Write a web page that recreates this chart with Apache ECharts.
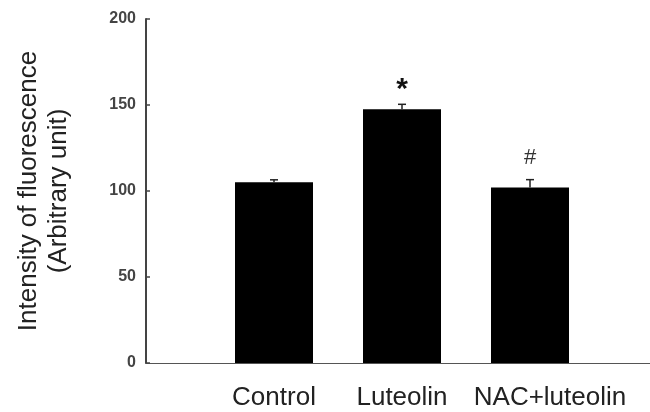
<!DOCTYPE html>
<html>
<head>
<meta charset="utf-8">
<script src="https://cdn.jsdelivr.net/npm/echarts@6/dist/echarts.min.js"></script>
<style>
  html, body { margin: 0; padding: 0; background: #fff; }
  #chart { width: 650px; height: 412px; }
</style>
</head>
<body>
<div id="chart"></div>
<script>
const categories = ['Control', 'Luteolin', 'NAC+luteolin']
const positions = [1, 2, 3]
const values = [105.1, 147.5, 102.1]
const errors = [1.4, 2.9, 4.5]
const marks = ['', '*', '#']
const yTicks = [0, 50, 100, 150, 200]

const chart = echarts.init(document.getElementById('chart'))

const barData = positions.map((x, i) => [x, values[i]])
const errData = positions.map((x, i) => [x, values[i], errors[i], i])

const option = {
  backgroundColor: '#fff',
  animation: false,
  // x axis runs to the right edge of the picture
  grid: { left: 146, top: 19, right: 0, height: 344 },
  xAxis: {
    type: 'value',
    min: 0,
    max: 3.9375,
    interval: 1,
    axisLine: { show: true, lineStyle: { color: '#555', width: 1.2 } },
    axisTick: { show: false },
    splitLine: { show: false },
    axisLabel: {
      color: '#222',
      fontFamily: 'Liberation Sans, Arial, sans-serif',
      fontSize: 26,
      margin: 22,
      showMaxLabel: false,
      formatter: (v) => {
        const i = positions.indexOf(v)
        if (i < 0) return ''
        // last label sits a bit right of its bar in the original
        return i === 2 ? '{r|' + categories[i] + '}' : categories[i]
      },
      rich: {
        r: {
          fontFamily: 'Liberation Sans, Arial, sans-serif',
          fontSize: 26,
          color: '#222',
          padding: [0, 0, 0, 40]
        }
      }
    }
  },
  yAxis: {
    type: 'value',
    min: 0,
    max: 200,
    interval: 50,
    name: 'Intensity of fluorescence\n(Arbitrary unit)',
    nameLocation: 'middle',
    nameRotate: 90,
    nameGap: 72,
    nameTextStyle: {
      color: '#222',
      fontFamily: 'Liberation Sans, Arial, sans-serif',
      fontSize: 26,
      lineHeight: 30
    },
    axisLine: { show: true, lineStyle: { color: '#444', width: 2 } },
    axisTick: { show: true, inside: true, length: 4, lineStyle: { color: '#444', width: 1.5 } },
    splitLine: { show: false },
    axisLabel: {
      color: '#444',
      fontFamily: 'Liberation Sans, Arial, sans-serif',
      fontSize: 16,
      fontWeight: 'bold',
      margin: 10,
      formatter: (v) => (yTicks.includes(v) ? String(v) : '')
    }
  },
  series: [
    {
      type: 'bar',
      data: barData,
      barWidth: 78,
      itemStyle: { color: '#000' }
    },
    {
      type: 'custom',
      data: errData,
      z: 5,
      renderItem: (params, api) => {
        const x = api.value(0)
        const v = api.value(1)
        const e = api.value(2)
        const idx = api.value(3)
        const base = api.coord([x, v])
        const top = api.coord([x, v + e])
        const cap = 4
        const children = [
          {
            type: 'line',
            shape: { x1: base[0], y1: base[1], x2: top[0], y2: top[1] },
            style: { stroke: '#222', lineWidth: 1.5 }
          },
          {
            type: 'line',
            shape: { x1: top[0] - cap, y1: top[1], x2: top[0] + cap, y2: top[1] },
            style: { stroke: '#222', lineWidth: 1.5 }
          }
        ]
        const m = marks[idx]
        if (m === '*') {
          children.push({
            type: 'text',
            style: {
              text: m, x: top[0], y: top[1],
              align: 'center', verticalAlign: 'bottom',
              fontFamily: 'Liberation Sans, Arial, sans-serif',
              fontSize: 30, fontWeight: 'bold', fill: '#111'
            }
          })
        } else if (m) {
          children.push({
            type: 'text',
            style: {
              text: m, x: top[0], y: top[1] - 11,
              align: 'center', verticalAlign: 'bottom',
              fontFamily: 'Liberation Sans, Arial, sans-serif',
              fontSize: 22, fill: '#333'
            }
          })
        }
        return { type: 'group', children }
      }
    }
  ]
}

chart.setOption(option)
</script>
</body>
</html>
